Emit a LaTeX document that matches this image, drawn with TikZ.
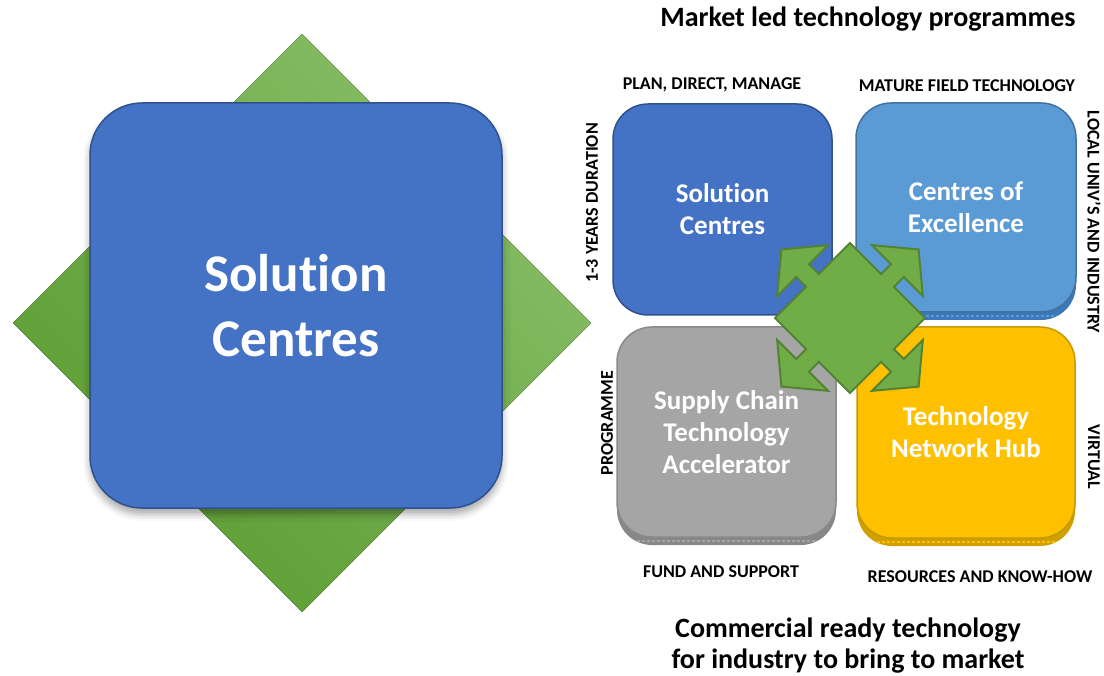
\documentclass[tikz,border=0pt]{standalone}
\usepackage{fontspec}
\setmainfont{Carlito}[Ligatures = {TeX, NoCommon}]
\usetikzlibrary{shadows.blur}

\definecolor{scblue}{HTML}{4472C4}
\definecolor{scedge}{HTML}{2F528F}
\definecolor{ceblue}{HTML}{5B9BD5}
\definecolor{ceedge}{HTML}{41719C}
\definecolor{cedark}{HTML}{3A78BA}
\definecolor{sgrey}{HTML}{A5A5A5}
\definecolor{sgedge}{HTML}{8A8A8A}
\definecolor{sgdark}{HTML}{878787}
\definecolor{hubgold}{HTML}{FFC000}
\definecolor{hubedge}{HTML}{C49A00}
\definecolor{hubdark}{HTML}{CFA000}
\definecolor{arrgreen}{HTML}{70AD47}
\definecolor{arredge}{HTML}{548235}
\definecolor{gdark}{HTML}{5C9C31}
\definecolor{glight}{HTML}{88BE69}

\begin{document}
\begin{tikzpicture}[x = 1pt, y = -1pt,
    quad/.style = {shape = rectangle, rounded corners = 35pt, draw, line width = 1.5pt,
        minimum width = 219pt, minimum height = 211pt, text = white, align = center,
        font = \fontsize{27}{32}\selectfont\bfseries},
    side/.style = {font = \fontsize{18}{20}\selectfont\bfseries},
    head/.style = {align = center, font = \fontsize{28}{31}\selectfont\bfseries},
    hatch/.style = {line width = 2.5pt, dash pattern = on 3pt off 2pt}]
    \useasboundingbox (0,0) rectangle (1104,676);

    % left: big diamond with the box on it
    \fill[top color = gdark, bottom color = glight, shading angle = 135]
        (302,34) -- (591,323) -- (302,612) -- (13,323) -- cycle;
    \node [quad, fill = scblue, draw = scedge, rounded corners = 52pt,
        minimum width = 412pt, minimum height = 405pt,
        font = \fontsize{53}{65}\selectfont\bfseries,
        blur shadow = {shadow xshift = 0pt, shadow yshift = -6pt, shadow blur radius = 7pt, shadow opacity = 35}]
        (big) at (296,305.5) {Solution\\Centres};

    % right: the four quadrants
    \fill[cedark, rounded corners = 35pt] (856,111) rectangle (1076,320);
    \draw[hatch, draw = ceblue] (876,316) -- (1056,316);
    \fill[sgdark, rounded corners = 35pt] (617,335) rectangle (836,545);
    \draw[hatch, draw = sgrey] (637,541) -- (816,541);
    \fill[hubdark, rounded corners = 35pt] (857,335) rectangle (1075,546);
    \draw[hatch, draw = hubgold] (877,542) -- (1055,542);

    \node [quad, fill = scblue, draw = scedge] (sc) at (722.5,209.5) {Solution\\Centres};
    \node [quad, fill = ceblue, draw = ceedge, minimum width = 220pt, minimum height = 209pt]
        (ce) at (966,207.5) {Centres of\\Excellence};
    \node [quad, fill = sgrey, draw = sgedge, minimum height = 210pt]
        (sca) at (726.5,432) {Supply Chain\\Technology\\Accelerator};
    \node [quad, fill = hubgold, draw = hubedge, minimum width = 218pt]
        (hub) at (966,432.5) {Technology\\Network Hub};

    % centre: four way arrow
    \begin{scope}[shift = {(850,318)}, rotate = 45]
        \draw[fill = arrgreen, draw = arredge, line width = 2pt, line join = miter]
            (53,-9) -- (67,-9) -- (67,-36) -- (97,0) -- (67,36) -- (67,9) -- (53,9)
            -- (53,53) -- (9,53) -- (9,67) -- (36,67) -- (0,97) -- (-36,67) -- (-9,67) -- (-9,53)
            -- (-53,53) -- (-53,9) -- (-67,9) -- (-67,36) -- (-97,0) -- (-67,-36) -- (-67,-9) -- (-53,-9)
            -- (-53,-53) -- (-9,-53) -- (-9,-67) -- (-36,-67) -- (0,-97) -- (36,-67) -- (9,-67) -- (9,-53)
            -- (53,-53) -- cycle;
    \end{scope}

    % labels round the quadrants
    \node [head] (mkt) at (868,19) {Market led technology programmes};
    \node [head] (com) at (848,646) {Commercial ready technology\\for industry to bring to market};
    \node [side] (plan) at (712,85) {PLAN, DIRECT, MANAGE};
    \node [side] (mature) at (967,86) {MATURE FIELD TECHNOLOGY};
    \node [side] (fund) at (721,572) {FUND AND SUPPORT};
    \node [side] (res) at (980,577) {RESOURCES AND KNOW-HOW};
    \node [side, rotate = 90] (dur) at (592,203) {1-3 YEARS DURATION};
    \node [side, rotate = 90] (prog) at (607,423) {PROGRAMME};
    \node [side, rotate = -90] (local) at (1094,222) {LOCAL UNIV'S AND INDUSTRY};
    \node [side, rotate = -90] (virt) at (1094,457) {VIRTUAL};
\end{tikzpicture}
\end{document}
